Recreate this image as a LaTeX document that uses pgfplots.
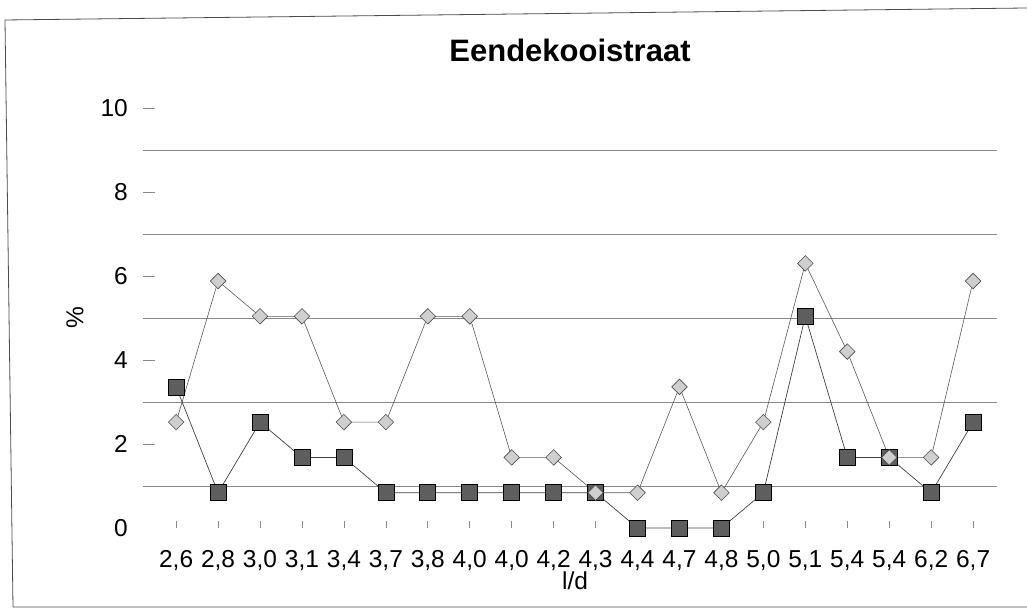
\documentclass[border=0pt]{standalone}
\usepackage{fontspec}
\setmainfont{Liberation Sans}
\usepackage{pgfplots}
\pgfplotsset{compat=1.18}
\definecolor{sqfill}{HTML}{5E5E5E}
\definecolor{dmfill}{HTML}{CFCFCF}
\definecolor{gridc}{HTML}{8A8A8A}
\begin{document}
\begin{tikzpicture}
\useasboundingbox (-143pt,-81pt) rectangle (884pt,528pt);
\begin{axis}[
    at={(0,0)}, anchor=south west,
    scale only axis,
    width=854pt, height=420pt,
    xmin=-0.79, xmax=19.57,
    ymin=0, ymax=10,
    axis line style={draw=none},
    xtick={0,...,19},
    xticklabels={{2,6},{2,8},{3,0},{3,1},{3,4},{3,7},{3,8},{4,0},{4,0},{4,2},
                 {4,3},{4,4},{4,7},{4,8},{5,0},{5,1},{5,4},{5,4},{6,2},{6,7}},
    xtick pos=bottom, ytick pos=left,
    tick align=inside,
    ytick={2,4,6,8,10},
    extra y ticks={0},
    extra y tick style={major tick length=0pt, grid=none},
    minor ytick={1,3,5,7,9},
    minor tick length=0pt,
    yminorgrids,
    minor grid style={gridc, line width=0.7pt},
    major tick length=12pt,
    xtick style={/pgfplots/major tick length=7pt},
    tick style={gridc, line width=0.7pt},
    /pgf/number format/assume math mode=true,
    tick label style={font=\fontsize{24.5}{28}\selectfont},
    xticklabel style={inner sep=0pt, yshift=-22pt},
    yticklabel style={inner sep=0pt, xshift=-15pt},
    title={Eendekooistraat},
    title style={font=\fontsize{31}{36}\selectfont\bfseries,
                 at={(axis description cs:0.5,1.0976)}, anchor=base},
    xlabel={l/d},
    xlabel style={font=\fontsize{24.5}{28}\selectfont,
                  at={(axis description cs:0.506,-0.147)}, anchor=base},
    ylabel={\%},
    ylabel style={font=\fontsize{24.5}{28}\selectfont,
                  at={(axis description cs:-0.0796,0.5)}, anchor=center},
    clip=false,
]
% dark squares
\addplot[draw=black!75, line width=0.7pt, mark=square*, mark size=8pt,
         mark options={fill=sqfill, draw=black, line width=0.7pt}]
coordinates {
(0,3.36) (1,0.84) (2,2.52) (3,1.68) (4,1.68) (5,0.84) (6,0.84) (7,0.84)
(8,0.84) (9,0.84) (10,0.84) (11,0) (12,0) (13,0) (14,0.84) (15,5.04)
(16,1.68) (17,1.68) (18,0.84) (19,2.52)
};
% light diamonds
\addplot[draw=black!65, line width=0.6pt, mark=square*, mark size=5.5pt,
         mark options={rotate=45, fill=dmfill, draw=black!70, line width=0.6pt}]
coordinates {
(0,2.52) (1,5.88) (2,5.04) (3,5.04) (4,2.52) (5,2.52) (6,5.04) (7,5.04)
(8,1.68) (9,1.68) (10,0.84) (11,0.84) (12,3.36) (13,0.84) (14,2.52) (15,6.3)
(16,4.2) (17,1.68) (18,1.68) (19,5.88)
};
\end{axis}
\draw[black!70, line width=0.8pt] (884pt,520pt) -- (-138pt,508pt) -- (-130pt,-79pt) -- (884pt,-79pt);
\end{tikzpicture}
\end{document}
